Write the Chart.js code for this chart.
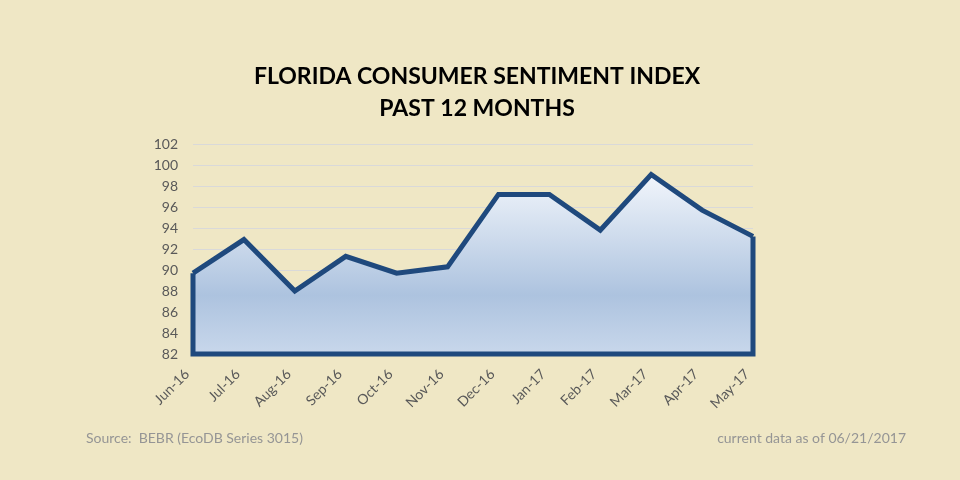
<!DOCTYPE html>
<html>
<head>
<meta charset="utf-8">
<script src="https://cdn.jsdelivr.net/npm/chart.js@4/dist/chart.umd.min.js"></script>
<style>
  html, body { margin: 0; padding: 0; background: #efe7c5; }
  #wrap { width: 960px; height: 480px; }
</style>
</head>
<body>
<div id="wrap"><canvas id="chart" width="960" height="480"></canvas></div>
<script>
const months = ['Jun-16', 'Jul-16', 'Aug-16', 'Sep-16', 'Oct-16', 'Nov-16',
                'Dec-16', 'Jan-17', 'Feb-17', 'Mar-17', 'Apr-17', 'May-17'];
const sentiment = [89.7, 92.9, 88.0, 91.3, 89.7, 90.3, 97.2, 97.2, 93.8, 99.1, 95.7, 93.2];
const titleLines = ['FLORIDA CONSUMER SENTIMENT INDEX', 'PAST 12 MONTHS'];
const sourceNote = 'Source:  BEBR (EcoDB Series 3015)';
const asOfNote = 'current data as of 06/21/2017';
const yMin = 82, yMax = 102, yStep = 2;

const LINE = '#1f497d';
const FONT = 'Lato, "Open Sans", sans-serif';

// outline round the area (left, bottom, right edges), title and footer notes
const areaFrame = {
    id: 'areaFrame',
    afterDatasetsDraw(chart) {
        const ctx = chart.ctx;
        const x = chart.scales.x, y = chart.scales.y;
        const x0 = x.getPixelForValue(0);
        const x1 = x.getPixelForValue(months.length - 1);
        const yb = y.getPixelForValue(yMin);
        ctx.save();
        ctx.strokeStyle = LINE;
        ctx.lineWidth = 5;
        ctx.lineJoin = 'miter';
        ctx.beginPath();
        ctx.moveTo(x0, y.getPixelForValue(sentiment[0]));
        ctx.lineTo(x0, yb);
        ctx.lineTo(x1, yb);
        ctx.lineTo(x1, y.getPixelForValue(sentiment[sentiment.length - 1]));
        ctx.stroke();
        ctx.restore();
    },
    afterDraw(chart) {
        const ctx = chart.ctx;
        ctx.save();
        ctx.fillStyle = '#000000';
        ctx.font = 'bold 23px ' + FONT;
        ctx.textAlign = 'center';
        ctx.textBaseline = 'middle';
        ctx.fillText(titleLines[0], 477, 77);
        ctx.fillText(titleLines[1], 477, 109);

        ctx.fillStyle = '#959595';
        ctx.font = '14px ' + FONT;
        ctx.textBaseline = 'alphabetic';
        ctx.textAlign = 'left';
        ctx.fillText(sourceNote, 86, 443);
        ctx.textAlign = 'right';
        ctx.fillText(asOfNote, 906, 443);
        ctx.restore();
    }
};

new Chart(document.getElementById('chart'), {
    type: 'line',
    data: {
        labels: months,
        datasets: [{
            data: sentiment,
            borderColor: LINE,
            borderWidth: 5,
            borderJoinStyle: 'miter',
            pointRadius: 0,
            tension: 0,
            fill: 'start',
            backgroundColor: function(context) {
                const area = context.chart.chartArea;
                if (!area) return '#c5d5ea';
                const g = context.chart.ctx.createLinearGradient(0, area.top, 0, area.bottom);
                g.addColorStop(0, '#ffffff');
                g.addColorStop(0.15, '#f1f5fb');
                g.addColorStop(0.72, '#adc3df');
                g.addColorStop(1, '#c8d7eb');
                return g;
            }
        }]
    },
    options: {
        responsive: false,
        animation: false,
        layout: { padding: { left: 143, right: 207, top: 144, bottom: 56 } },
        plugins: {
            legend: { display: false },
            tooltip: { enabled: false },
            title: { display: false }
        },
        scales: {
            x: {
                grid: { display: false },
                border: { display: false },
                ticks: {
                    color: '#595959',
                    font: { family: FONT, size: 14 },
                    maxRotation: 45,
                    minRotation: 45,
                    autoSkip: false,
                    padding: 4,
                    labelOffset: -6
                },
                afterFit(scale) { scale.height = 70; }
            },
            y: {
                min: yMin,
                max: yMax,
                grid: { color: '#d9d9d9', lineWidth: 1, drawTicks: false },
                border: { display: false },
                ticks: {
                    stepSize: yStep,
                    color: '#595959',
                    font: { family: FONT, size: 14 },
                    padding: 15
                },
                afterFit(scale) { scale.width = 50; }
            }
        }
    },
    plugins: [areaFrame]
});
</script>
</body>
</html>
